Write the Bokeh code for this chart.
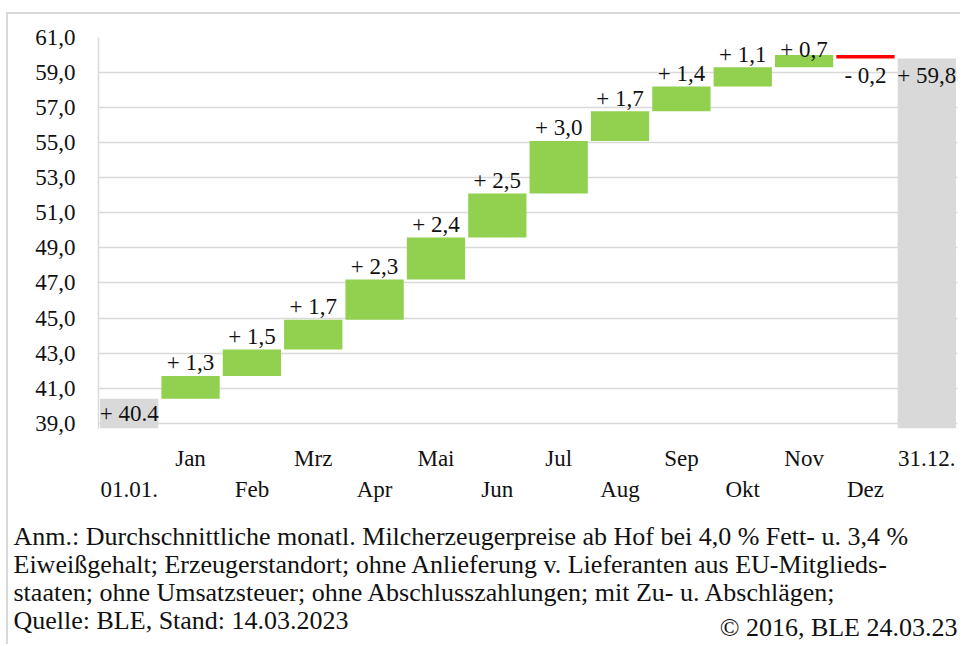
from bokeh.plotting import figure
from bokeh.layouts import column
from bokeh.models import (Range1d, FixedTicker, LinearAxis, ColumnDataSource, Grid)
from bokeh.core.properties import value
from bokeh.embed import file_html
from bokeh.resources import INLINE

# ---------------- data ----------------
categories = ["01.01.", "Jan", "Feb", "Mrz", "Apr", "Mai", "Jun", "Jul",
              "Aug", "Sep", "Okt", "Nov", "Dez", "31.12."]
start_value = 40.4
monthly_changes = [1.3, 1.5, 1.7, 2.3, 2.4, 2.5, 3.0, 1.7, 1.4, 1.1, 0.7, -0.2]
end_value = 59.8
start_label = "+ 40.4"
end_label = "+ 59,8"
y_ticks = [39, 41, 43, 45, 47, 49, 51, 53, 55, 57, 59, 61]
footer_lines = [
    "Anm.: Durchschnittliche monatl. Milcherzeugerpreise ab Hof bei 4,0 % Fett- u. 3,4 %",
    "Eiweißgehalt; Erzeugerstandort; ohne Anlieferung v. Lieferanten aus EU-Mitglieds-",
    "staaten; ohne Umsatzsteuer; ohne Abschlusszahlungen; mit Zu- u. Abschlägen;",
    "Quelle: BLE, Stand: 14.03.2023",
]
credit = "© 2016, BLE 24.03.23"

# ---------------- styling ----------------
AXIS_MIN = 38.7
AXIS_MAX = 61.0
FONT = "Liberation Serif"
TXT = "#111111"
GREEN = "#92D050"
RED = "#FF0000"
GREY = "#D9D9D9"
CHART_FS = "23px"
FOOT_FS = "26px"
W = 952
H = 498
BORDER_TOP, BORDER_BOTTOM = 23, 84
PX_PER_UNIT = (H - BORDER_TOP - BORDER_BOTTOM) / (AXIS_MAX - AXIS_MIN)


def fmt(v):
    return ("{:.1f}".format(abs(v))).replace(".", ",")


def above_offset(top):
    # label centred 13 px above the bar, but kept inside the plot area
    return max(-13, 12 - (AXIS_MAX - top) * PX_PER_UNIT)


# build waterfall geometry from the values
xs, bottoms, tops, colors = [], [], [], []
lx, ly, ltext, loff = [], [], [], []

xs.append(0); bottoms.append(AXIS_MIN); tops.append(start_value); colors.append(GREY)
lx.append(0); ly.append(start_value); ltext.append(start_label); loff.append(15)

level = start_value
for i, c in enumerate(monthly_changes, start=1):
    b, t = min(level, level + c), max(level, level + c)
    xs.append(i); bottoms.append(b); tops.append(t)
    colors.append(GREEN if c >= 0 else RED)
    if c >= 0:
        lx.append(i); ly.append(t); ltext.append("+ " + fmt(c)); loff.append(above_offset(t))
    else:
        lx.append(i); ly.append(b); ltext.append("- " + fmt(c)); loff.append(17)
    level += c

n = len(categories)
xs.append(n - 1); bottoms.append(AXIS_MIN); tops.append(end_value); colors.append(GREY)
lx.append(n - 1); ly.append(end_value); ltext.append(end_label); loff.append(17)

bars = ColumnDataSource(dict(x=xs, bottom=bottoms, top=tops, color=colors))
labels = ColumnDataSource(dict(x=lx, y=ly, text=ltext, yoff=loff))

p = figure(width=W, height=H, title=None,
           x_range=Range1d(-0.5, n - 0.5), y_range=Range1d(AXIS_MIN, AXIS_MAX),
           x_axis_type=None, y_axis_type=None,
           output_backend="svg", toolbar_location=None,
           min_border_left=90, min_border_right=3,
           min_border_top=BORDER_TOP, min_border_bottom=BORDER_BOTTOM)
p.outline_line_color = None
p.frame_align = False

# grid
p.add_layout(Grid(dimension=1, ticker=FixedTicker(ticks=y_ticks),
                  grid_line_color="#d9d9d9", grid_line_width=1.5))

# y axis
yaxis = LinearAxis(ticker=FixedTicker(ticks=y_ticks),
                   major_label_overrides={t: "{:.1f}".format(t).replace(".", ",") for t in y_ticks},
                   axis_line_color="#d9d9d9", axis_line_width=1.5,
                   major_tick_line_color=None, minor_tick_line_color=None,
                   major_label_standoff=17,
                   major_label_text_font=FONT, major_label_text_font_size=CHART_FS,
                   major_label_text_color=TXT)
p.add_layout(yaxis, "left")

# two staggered x axes (upper row: Jan, Mrz, ...; lower row: 01.01., Feb, ...)
upper_idx = [i for i in range(n) if i % 2 == 1]
lower_idx = [i for i in range(n) if i % 2 == 0]
for idx, standoff in ((upper_idx, 11), (lower_idx, -3)):
    ax = LinearAxis(ticker=FixedTicker(ticks=idx),
                    major_label_overrides={i: categories[i] for i in idx},
                    axis_line_color=None, major_tick_line_color=None,
                    minor_tick_line_color=None,
                    major_label_standoff=standoff,
                    major_label_text_font=FONT, major_label_text_font_size=CHART_FS,
                    major_label_text_color=TXT)
    p.add_layout(ax, "below")

p.vbar(x="x", bottom="bottom", top="top", width=0.95, color="color",
       line_color=None, source=bars)

p.text(x="x", y="y", text="text", y_offset="yoff", source=labels,
       text_align="center", text_baseline="middle",
       text_font=value(FONT), text_font_size=CHART_FS, text_color=TXT)

# ---------------- footer (pixel coordinates, y down) ----------------
FH = 132
foot = figure(width=W, height=FH, title=None,
              x_range=Range1d(0, W), y_range=Range1d(FH, 0),
              x_axis_type=None, y_axis_type=None,
              output_backend="svg", toolbar_location=None,
              min_border=0, min_border_left=0, min_border_right=0,
              min_border_top=0, min_border_bottom=0)
foot.outline_line_color = None
foot.frame_align = False
foot.grid.visible = False

foot_src = ColumnDataSource(dict(x=[5, 5, 5, 5], y=[24, 52, 80, 108], text=footer_lines))
foot.text(x="x", y="y", text="text", source=foot_src,
          text_align="left", text_baseline="middle",
          text_font=value(FONT), text_font_size=FOOT_FS, text_color=TXT)
foot.text(x=[W - 3], y=[115], text=[credit],
          text_align="right", text_baseline="middle",
          text_font=value(FONT), text_font_size=FOOT_FS, text_color=TXT)

layout = column(p, foot, spacing=0,
                styles={"margin-top": "12px", "margin-left": "6px",
                        "border-top": "2px solid #d9d9d9",
                        "border-left": "2px solid #d9d9d9"})

open("out.html", "w").write(file_html(layout, INLINE))
